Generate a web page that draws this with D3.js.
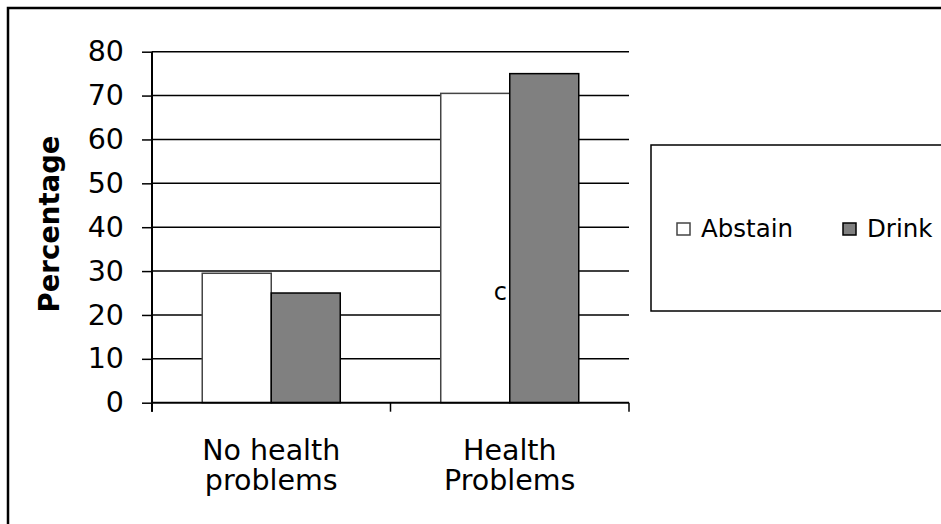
<!DOCTYPE html>
<html>
<head>
<meta charset="utf-8">
<script src="https://cdn.jsdelivr.net/npm/d3@7"></script>
<style>
body { margin: 0; background: #fff; }
svg text { font-family: "DejaVu Sans", Verdana, sans-serif; }
</style>
</head>
<body>
<svg></svg>
<script>
var width = 941
var height = 524

var categories = [["No health", "problems"], ["Health", "Problems"]]
var series = ["Abstain", "Drink"]
var abstainValues = [29.5, 70.5]
var drinkValues = [25, 75]
var yTicks = [0, 10, 20, 30, 40, 50, 60, 70, 80]
var colors = ["#ffffff", "#808080"]
var strokes = ["#444444", "#000000"]

var svg = d3.select("svg")
	.attr("width", width)
	.attr("height", height)

// outer frame (runs off the right/bottom edges)
svg.append("rect")
	.attr("x", 8)
	.attr("y", 8)
	.attr("width", 960)
	.attr("height", 560)
	.attr("fill", "none")
	.attr("stroke", "#000")
	.attr("stroke-width", 2.5)

var x0 = d3.scaleBand()
	.domain([0, 1])
	.range([152, 629])

var x1 = d3.scaleBand()
	.domain(series)
	.range([0, x0.bandwidth()])
	.paddingOuter(0.728)

var y = d3.scaleLinear()
	.domain([0, 80])
	.range([402.7, 51.7])

// gridlines
svg.append("g")
	.selectAll("line")
	.data(yTicks.slice(1))
	.join("line")
	.attr("x1", 152)
	.attr("x2", 629)
	.attr("y1", function(d){ return y(d) })
	.attr("y2", function(d){ return y(d) })
	.attr("stroke", "#000")
	.attr("stroke-width", 1.5)

var rows = categories.map(function(c, i){
	return {cat: i, values: [abstainValues[i], drinkValues[i]]}
})

svg.append("g")
	.selectAll("g")
	.data(rows)
	.join("g")
	.attr("transform", function(d){ return "translate(" + x0(d.cat) + ",0)" })
	.selectAll("rect")
	.data(function(d){ return d.values.map(function(v, j){ return {s: series[j], v: v, j: j} }) })
	.join("rect")
	.attr("x", function(d){ return x1(d.s) })
	.attr("width", x1.bandwidth())
	.attr("y", function(d){ return y(d.v) })
	.attr("height", function(d){ return y(0) - y(d.v) })
	.attr("fill", function(d){ return colors[d.j] })
	.attr("stroke", function(d){ return strokes[d.j] })
	.attr("stroke-width", 1.5)

// y axis
var yAxis = svg.append("g")
	.attr("transform", "translate(152,0)")
	.call(d3.axisLeft(y).tickValues(yTicks).tickSize(10).tickPadding(18))
yAxis.selectAll("line").attr("stroke", "#000").attr("stroke-width", 1.5)
yAxis.select(".domain").remove()
yAxis.selectAll("text")
	.attr("font-size", 28.5)
	.attr("font-family", "DejaVu Sans")
	.attr("fill", "#000")

svg.append("line")
	.attr("x1", 152).attr("x2", 152)
	.attr("y1", y(80)).attr("y2", y(0) + 9)
	.attr("stroke", "#000").attr("stroke-width", 2)

// x axis
svg.append("line")
	.attr("x1", 152).attr("x2", 629)
	.attr("y1", y(0)).attr("y2", y(0))
	.attr("stroke", "#000").attr("stroke-width", 2)

svg.append("g")
	.selectAll("line")
	.data([0, 1, 2])
	.join("line")
	.attr("x1", function(d){ return 152 + d * x0.step() })
	.attr("x2", function(d){ return 152 + d * x0.step() })
	.attr("y1", y(0))
	.attr("y2", y(0) + 9)
	.attr("stroke", "#000")
	.attr("stroke-width", 1.5)

svg.append("g")
	.selectAll("text")
	.data(categories)
	.join("text")
	.attr("x", function(d, i){ return x0(i) + x0.bandwidth() / 2 })
	.attr("y", 460)
	.attr("text-anchor", "middle")
	.attr("font-size", 28.5)
	.selectAll("tspan")
	.data(function(d){ return d })
	.join("tspan")
	.attr("x", function(){ return this.parentNode.getAttribute("x") })
	.attr("dy", function(d, i){ return i == 0 ? 0 : 30 })
	.text(function(d){ return d })

// y title
svg.append("text")
	.attr("transform", "translate(59,224) rotate(-90)")
	.attr("text-anchor", "middle")
	.attr("font-size", 27.5)
	.attr("font-weight", "bold")
	.text("Percentage")

// stray label
svg.append("text")
	.attr("x", 507)
	.attr("y", 300)
	.attr("text-anchor", "end")
	.attr("font-size", 24)
	.text("c")

// legend
svg.append("rect")
	.attr("x", 651)
	.attr("y", 145)
	.attr("width", 320)
	.attr("height", 166)
	.attr("fill", "#fff")
	.attr("stroke", "#000")
	.attr("stroke-width", 1.5)

var legX = [677, 843]
var leg = svg.append("g")
	.selectAll("g")
	.data(series)
	.join("g")
	.attr("transform", function(d, i){ return "translate(" + legX[i] + ",223)" })
leg.append("rect")
	.attr("width", 13)
	.attr("height", 12)
	.attr("fill", function(d, i){ return colors[i] })
	.attr("stroke", function(d, i){ return strokes[i] })
	.attr("stroke-width", 1.5)
leg.append("text")
	.attr("x", 24)
	.attr("y", 14)
	.attr("font-size", 24.5)
	.text(function(d){ return d })
</script>
</body>
</html>
